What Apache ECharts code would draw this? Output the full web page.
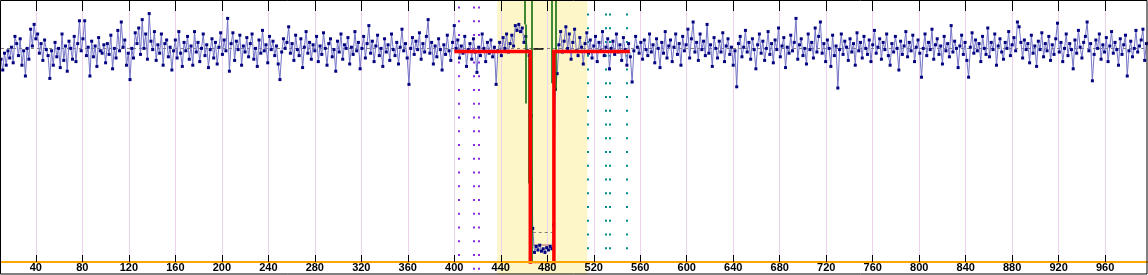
<!DOCTYPE html>
<html>
<head>
<meta charset="utf-8">
<script src="https://cdn.jsdelivr.net/npm/echarts@6.0.0/dist/echarts.min.js"></script>
<style>
html,body{margin:0;padding:0;background:#fff;}
#chart{width:1148px;height:275px;}
</style>
</head>
<body>
<div id="chart"></div>
<script>
// ---- data ----
const tickValues = [40,80,120,160,200,240,280,320,360,400,440,480,520,560,600,640,680,720,760,800,840,880,920,960];
const xStart = 10;
const xStep = 1.5;
const signal = [
205,196,210,200,212,206,215,202,224,218,208,222,200,212,191,214,205,230,216,234,
222,226,210,218,204,221,213,208,189,212,200,219,207,214,198,226,204,216,195,220,
214,205,224,203,218,237,212,222,237,208,215,191,220,207,216,199,223,212,210,217,
202,218,209,225,197,214,206,229,212,236,215,221,200,210,188,214,206,227,218,231,
209,238,214,226,205,243,220,213,228,204,217,210,226,200,218,221,207,215,196,212,
221,206,228,210,199,219,212,224,205,216,200,228,211,219,203,214,226,208,217,198,
213,222,206,219,201,215,227,209,221,212,239,195,218,227,204,220,213,225,200,216,
211,223,207,218,226,205,214,199,221,210,229,212,217,202,224,213,220,208,216,201,
188,211,222,214,219,232,210,218,204,225,213,208,222,198,215,228,210,219,205,217,
212,224,203,216,209,227,214,200,218,222,207,213,195,220,211,226,205,217,214,223,
201,215,209,228,212,219,197,214,224,206,218,233,210,220,203,216,225,208,214,199,
222,211,217,204,226,213,208,219,201,215,230,212,218,206,184,214,223,209,220,213,
227,205,218,211,224,238,210,219,201,216,207,222,213,196,217,209,225,212,204,219,
233,214,221,206,216,210,224,199,213,218,205,222,211,194,215,208,226,214,203,219,
210,221,207,215,184,212,219,208,223,214,226,211,218,225,216,233,229,234,228,231,
219,224,212,208,158,64,44,49,46,50,45,47,44,48,46,49,47,67,180,193,
217,228,211,220,232,214,226,205,219,230,212,208,223,215,201,218,227,210,221,206,
216,224,203,219,212,228,208,215,222,197,214,220,209,226,211,217,204,223,213,200,
218,207,186,212,224,215,210,219,205,221,213,208,226,211,217,202,222,214,198,219,
210,228,206,216,221,203,215,226,209,218,200,224,212,217,230,206,222,236,211,219,
204,226,213,220,208,234,210,217,199,223,214,206,220,211,227,203,216,222,209,215,
200,212,182,218,224,207,215,229,211,219,205,222,213,197,217,226,210,220,204,214,
228,209,218,202,221,213,231,207,216,223,198,215,210,225,212,219,239,205,217,222,
208,214,201,226,213,219,206,231,211,224,236,210,218,203,221,214,199,225,208,216,
181,213,226,209,220,215,204,222,211,218,200,227,212,219,206,224,214,209,221,203,
217,229,210,215,222,205,219,213,226,208,200,218,211,224,214,196,220,209,216,228,
207,219,212,225,203,215,221,210,190,214,226,208,219,213,230,205,217,222,209,216,
201,224,212,218,207,233,211,220,214,198,216,225,209,219,204,190,215,227,210,221,
212,218,203,224,214,209,231,207,219,213,226,200,216,222,211,205,219,214,228,208,
217,223,212,236,232,219,206,221,213,218,202,225,210,216,199,220,213,227,207,218,
212,224,204,217,209,222,235,211,219,203,214,226,208,218,213,197,221,210,229,215,
206,219,224,236,212,218,187,209,221,214,226,205,217,211,223,203,216,228,210,219,
213,200,222,209,217,225,191,212,220,207,214,229,211,216,221,230,204,218
];
const meanLevel = 214;
const levelX = [400, 465.4, 465.4, 485.7, 485.7, 551];
const levelY = [211.5, 211.5, 33, 33, 211.5, 211.5];
const bandRange = [437, 514.5];
const purpleMarks = [403.5, 417, 421.3];
const tealMarks = [515.1, 530.3, 534, 548];
const greenX = [460.9, 461.8, 464.3, 466.9, 483.8, 487.6];
const greenTop = [253.5, 234, 206.5, 253.5, 253.5, 253.5];
const greenBottom = [234, 168, 101.5, 36, 185, 179];
const lowSpan = [467.5, 484.7];
const lowMean = 61;
const lowBase = 50;
const gapMarkSpan = [468, 476.6];

// ---- chart ----
const chart = echarts.init(document.getElementById('chart'), null, {renderer: 'canvas'});
const X_MIN = 10, X_MAX = 996, Y_MIN = 36, Y_MAX = 253.5, Y_FLOOR = 25.5;

const signalData = signal.map((v, i) => [xStart + i * xStep, v]);
const levelData = levelX.map((x, i) => [x, levelY[i]]);

function vseg(x, y1, y2) { return {coords: [[x, y1], [x, y2]]}; }

const option = {
  animation: false,
  backgroundColor: '#fff',
  grid: {left: 1, right: 1, top: 1, bottom: 13, containLabel: false, outerBoundsMode: 'none'},
  xAxis: [
    {
      type: 'value', min: X_MIN, max: X_MAX, position: 'bottom', z: 10,
      axisLine: {show: true, onZero: false, lineStyle: {color: '#ffa500', width: 2}},
      axisTick: {show: true, inside: true, length: 7, customValues: tickValues, lineStyle: {color: '#000', width: 1}},
      axisLabel: {show: true, customValues: tickValues, color: '#000', fontWeight: 'bold', fontSize: 11,
                  fontFamily: 'Liberation Sans, Arial, sans-serif', margin: 0},
      splitLine: {show: false}
    },
    {
      type: 'value', min: X_MIN, max: X_MAX, position: 'top', z: 10,
      axisLine: {show: false, onZero: false},
      axisTick: {show: true, inside: true, length: 10, customValues: tickValues, lineStyle: {color: '#000', width: 1}},
      axisLabel: {show: false},
      splitLine: {show: false}
    }
  ],
  yAxis: {
    type: 'value', min: Y_MIN, max: Y_MAX, show: false,
    splitLine: {show: false}
  },
  graphic: [{
    type: 'rect', z: 100, silent: true,
    shape: {x: 0.5, y: 0.5, width: 1146.5, height: 273.5},
    style: {fill: null, stroke: '#000', lineWidth: 1}
  }],
  series: [
    {
      name: 'band', type: 'custom', z: 0, silent: true, clip: false,
      data: [bandRange],
      renderItem: function (params, api) {
        const p0 = api.coord([bandRange[0], Y_MAX]);
        const p1 = api.coord([bandRange[1], Y_FLOOR]);
        return {type: 'rect', shape: {x: p0[0], y: p0[1] - 1, width: p1[0] - p0[0], height: p1[1] - p0[1] + 1},
                style: {fill: '#fcf6c8'}};
      }
    },
    {
      name: 'gridlines', type: 'lines', coordinateSystem: 'cartesian2d', z: 1, silent: true,
      lineStyle: {color: '#ecd2ec', width: 1, opacity: 1},
      data: tickValues.map(t => vseg(t, Y_MIN, Y_MAX))
    },
    {
      name: 'purple', type: 'lines', coordinateSystem: 'cartesian2d', z: 1, silent: true, clip: false,
      lineStyle: {color: '#8a2be2', width: 2, opacity: 1, type: [2, 11.75]},
      data: purpleMarks.map(x => vseg(x, 249, 29))
    },
    {
      name: 'teal', type: 'lines', coordinateSystem: 'cartesian2d', z: 1, silent: true, clip: false,
      lineStyle: {color: '#008b8b', width: 2, opacity: 1, type: [2, 11.75]},
      data: tealMarks.map(x => vseg(x, 243, Y_MIN))
    },
    {
      name: 'mean', type: 'lines', coordinateSystem: 'cartesian2d', z: 2, silent: true,
      lineStyle: {color: '#808080', width: 1, opacity: 1, type: [3, 3]},
      data: [{coords: [[X_MIN, meanLevel], [X_MAX, meanLevel]]}]
    },
    {
      name: 'lowlines', type: 'lines', coordinateSystem: 'cartesian2d', z: 2, silent: true,
      data: [
        {coords: [[lowSpan[0], lowMean], [lowSpan[1], lowMean]], lineStyle: {color: '#808080', width: 1, opacity: 1, type: [3, 3]}},
        {coords: [[lowSpan[0], lowBase], [lowSpan[1] - 1.5, lowBase]], lineStyle: {color: '#c89090', width: 1.5, opacity: 1}},
        {coords: [[gapMarkSpan[0], meanLevel], [gapMarkSpan[1], meanLevel]], lineStyle: {color: '#000', width: 1.5, opacity: 1}}
      ]
    },
    {
      name: 'signal', type: 'line', z: 3, data: signalData,
      symbol: 'rect', symbolSize: 3, showAllSymbol: true,
      itemStyle: {color: '#000080'},
      lineStyle: {color: '#7474c6', width: 1},
      silent: true
    },
    {
      name: 'green', type: 'lines', coordinateSystem: 'cartesian2d', z: 4, silent: true,
      lineStyle: {color: '#006400', width: 1.5, opacity: 1},
      data: greenX.map((x, i) => vseg(x, greenTop[i], greenBottom[i]))
    },
    {
      name: 'level', type: 'lines', coordinateSystem: 'cartesian2d', polyline: true, z: 5, silent: true, clip: true,
      lineStyle: {color: '#ff0000', width: 3.5, opacity: 1, join: 'miter'},
      data: [{coords: levelData}]
    }
  ]
};
chart.setOption(option);
</script>
</body>
</html>
